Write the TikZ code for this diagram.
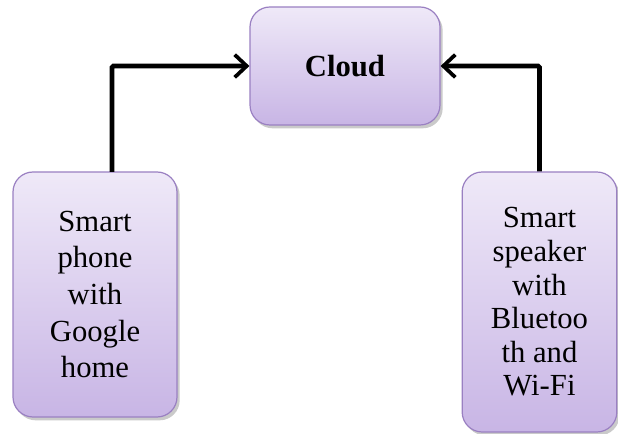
\documentclass[tikz,border=0pt]{standalone}
\usepackage{fontspec}
\setmainfont{Liberation Serif}
\usetikzlibrary{arrows.meta,shadows}
\definecolor{boxtop}{HTML}{EFE9F8}
\definecolor{boxbot}{HTML}{C8B5E5}
\definecolor{boxline}{HTML}{9A80C2}
\tikzset{
  box/.style={rectangle, rounded corners=15pt, draw=boxline, line width=0.9pt,
    top color=boxtop, bottom color=boxbot, align=center, inner sep=0pt,
    font=\fontsize{23}{27.5}\selectfont,
    drop shadow={shadow xshift=2pt, shadow yshift=-2.5pt, opacity=0.35, fill=black!60}},
  conn/.style={line width=3.5pt, -{Straight Barb[length=9pt, width=17pt, line width=2.8pt]}, rounded corners=1pt}
}
\begin{document}
\begin{tikzpicture}[x=0.75pt, y=-0.75pt]
\useasboundingbox (0,0) rectangle (618,434);
\node[box, minimum width=142.5pt, minimum height=88.5pt] (cloud) at (345,66) {\textbf{Cloud}};
\node[box, minimum width=123pt, minimum height=183.75pt] (sp) at (95,294.5) {Smart\\phone\\with\\Google\\home};
\node[box, minimum width=116pt, minimum height=195pt, font=\fontsize{23}{25.2}\selectfont] (ss) at (539.5,302) {Smart\\speaker\\with\\Bluetoo\\th and\\Wi-Fi};
\coordinate (a1) at (112,172);
\draw[conn] (a1) |- (cloud.west);
\draw[conn] (ss.north) |- (cloud.east);
\end{tikzpicture}
\end{document}
